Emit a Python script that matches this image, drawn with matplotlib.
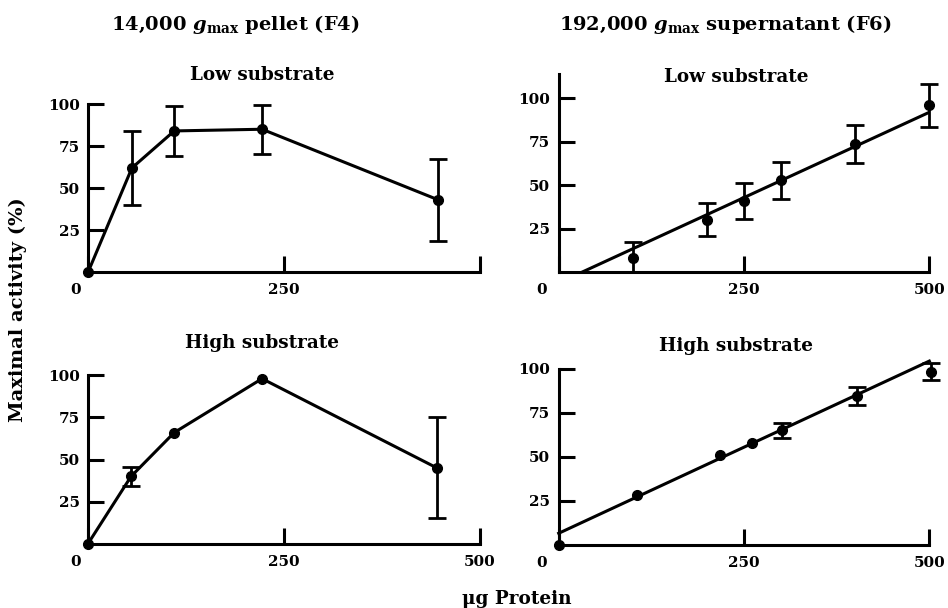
import matplotlib
matplotlib.use("Agg")
import matplotlib.pyplot as plt
import matplotlib.transforms as mtransforms

plt.rcParams['font.family'] = ['DejaVu Serif']
plt.rcParams['font.weight'] = 'bold'
plt.rcParams['mathtext.fontset'] = 'custom'
plt.rcParams['mathtext.rm'] = 'DejaVu Serif:bold'
plt.rcParams['mathtext.it'] = 'DejaVu Serif:italic:bold'
plt.rcParams['mathtext.bf'] = 'DejaVu Serif:bold'

nan = float('nan')

# -----------------------------
# Data
# -----------------------------
# 14,000 g pellet (F4)
f4_low_x = [0, 56, 110, 222, 447]
f4_low_y = [0, 62, 84, 85, 43]
f4_low_err = [nan, 22, 15, 14.5, 24.5]

f4_high_x = [0, 55, 110, 222, 445]
f4_high_y = [0, 40, 66, 98, 45]
f4_high_err = [nan, 5.5, nan, nan, 30]

# 192,000 g supernatant (F6)
f6_low_x = [100, 200, 250, 300, 400, 500]
f6_low_y = [8, 30, 41, 53, 74, 96]
f6_low_err_lo = [8, 9, 10.5, 11, 11, 12.5]
f6_low_err_hi = [9.5, 10, 10.5, 10.5, 10.5, 12.5]
f6_low_fit_x = [31, 500]
f6_low_fit_y = [0, 92]

f6_high_x = [0, 105, 218, 261, 301, 402, 502]
f6_high_y = [0, 28.5, 51, 58, 65, 84.5, 98.5]
f6_high_err = [nan, nan, nan, nan, 4, 5, 5]
f6_high_fit_x = [0, 500]
f6_high_fit_y = [6.5, 104.5]

x_ticks = [0, 250, 500]
y_ticks = [25, 50, 75, 100]

# -----------------------------
# Figure
# -----------------------------
W, H = 948, 608
fig = plt.figure(figsize=(W / 100, H / 100), dpi=100)


def px_axes(x0, x1, y_top, y_bot):
    # axes rect from pixel coords of the reference image
    return fig.add_axes([x0 / W, 1 - y_bot / H, (x1 - x0) / W, (y_bot - y_top) / H])


def style(ax, ytop, xlabels, zero_shift):
    ax.set_xlim(0, 500)
    ax.set_ylim(0, ytop)
    for s in ['top', 'right']:
        ax.spines[s].set_visible(False)
    for s in ['left', 'bottom']:
        ax.spines[s].set_linewidth(2.2)
    ax.set_xticks(x_ticks)
    ax.set_xticklabels(xlabels)
    ax.set_yticks(y_ticks)
    ax.set_yticklabels([str(t) for t in y_ticks])
    ax.tick_params(direction='in', length=11.5, width=2.2, labelsize=11)
    ax.tick_params(axis='x', pad=8)
    ax.tick_params(axis='y', pad=6)
    ax.patch.set_visible(False)
    lab = ax.get_xticklabels()[0]
    lab.set_transform(lab.get_transform() +
                      mtransforms.ScaledTranslation(zero_shift / 100, 0, fig.dpi_scale_trans))


def points(ax, x, y, err, line=True):
    ax.errorbar(x, y, yerr=err, fmt='o', color='black', ms=7,
                elinewidth=2, capsize=6.5, capthick=2,
                ls='-' if line else 'none', lw=2.2, clip_on=False, zorder=3)


# top left
ax1 = px_axes(88, 480, 104, 272.3)
points(ax1, f4_low_x, f4_low_y, f4_low_err)
style(ax1, 100, ['0', '250', ''], -12)

# bottom left
ax2 = px_axes(88, 480, 375.3, 543.7)
points(ax2, f4_high_x, f4_high_y, f4_high_err)
style(ax2, 100, ['0', '250', '500'], -12)

# top right
ax3 = px_axes(558.7, 929.3, 74, 272.3)
ax3.plot(f6_low_fit_x, f6_low_fit_y, color='black', lw=2.2)
points(ax3, f6_low_x, f6_low_y, [f6_low_err_lo, f6_low_err_hi], line=False)
style(ax3, 114, ['0', '250', '500'], -17)

# bottom right
ax4 = px_axes(558.7, 929.3, 369, 544.7)
ax4.plot(f6_high_fit_x, f6_high_fit_y, color='black', lw=2.2, clip_on=False)
points(ax4, f6_high_x, f6_high_y, f6_high_err, line=False)
style(ax4, 100, ['0', '250', '500'], -17)


def ftext(x, y, s, **kw):
    fig.text(x / W, 1 - y / H, s, ha='center', va='center', fontweight='bold', **kw)


ftext(235, 25, r'14,000 $\mathit{g}_{\mathbf{max}}$ pellet (F4)', fontsize=14)
ftext(725, 25, r'192,000 $\mathit{g}_{\mathbf{max}}$ supernatant (F6)', fontsize=14)
ftext(262, 75, 'Low substrate', fontsize=13.2)
ftext(736, 77, 'Low substrate', fontsize=13.2)
ftext(262, 343, 'High substrate', fontsize=13.2)
ftext(736, 346, 'High substrate', fontsize=13.2)
ftext(17.5, 310, 'Maximal activity (%)', fontsize=14, rotation=90)
ftext(517, 599, 'μg Protein', fontsize=13.3)

fig.savefig('out.png', dpi=100)
